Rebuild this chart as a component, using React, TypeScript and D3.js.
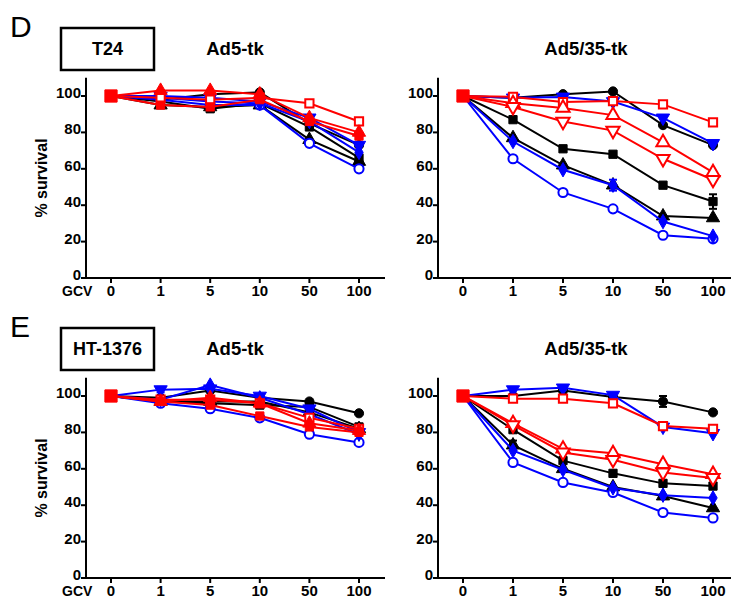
import React from 'react';
import * as d3 from 'd3';

// ---------- data ----------
const gcvDoses = ['0', '1', '5', '10', '50', '100'];
const yTickValues = [0, 20, 40, 60, 80, 100];

// series order: black ●, black ■, black ▲, blue ○, blue ◆, blue ▼, red □, red △/▲, red ▽/■
const seriesColors = ['#000000', '#000000', '#000000', '#0000ff', '#0000ff', '#0000ff', '#ff0000', '#ff0000', '#ff0000'];
const seriesShapes = ['circle', 'square', 'triangle', 'circle', 'diamond', 'triangleDown', 'square', 'triangle', 'triangleDown'];
const seriesOpen = [false, false, false, true, false, false, true, true, true];
// in the Ad5-tk panels the last two red series use filled markers
const seriesShapesAd5 = ['circle', 'square', 'triangle', 'circle', 'diamond', 'triangleDown', 'square', 'triangle', 'square'];
const seriesOpenAd5 = [false, false, false, true, false, false, true, false, false];

const t24Ad5tk = [
  [100, 98, 101, 102, 85, 73],
  [100, 97, 93, 96, 83, 66],
  [100, 95, 94, 95, 76, 64],
  [100, 98, 95, 95, 74, 60],
  [100, 99, 97, 96, 86, 69],
  [100, 100, 99, 97, 88, 73],
  [100, 99, 98, 99, 96, 86],
  [100, 103, 103, 101, 88, 80],
  [100, 95, 94, 98, 86, 78],
];
const t24Ad535tk = [
  [100, 99, 101, 102.5, 84, 73],
  [100, 87, 71, 68, 51, 42],
  [100, 77, 62, 51, 34, 33],
  [100, 65.5, 47, 38, 23.5, 21.5],
  [100, 75, 59.5, 51, 31, 23],
  [100, 99, 99.5, 97, 88, 74],
  [100, 99.5, 96.7, 97.2, 95.4, 85.5],
  [100, 96, 93.4, 89.5, 74.5, 58],
  [100, 94, 86, 81, 65.5, 54],
];
const ht1376Ad5tk = [
  [100, 99, 103, 99, 97, 90.5],
  [100, 97, 96, 95, 94, 83],
  [100, 97, 97, 97, 91, 82],
  [100, 96, 93, 88, 79, 74.5],
  [100, 98, 106, 99, 90, 79],
  [100, 103.5, 104, 100, 93, 80],
  [100, 98, 98, 96, 88, 82],
  [100, 97, 99, 96, 85, 81],
  [100, 97, 95, 89, 83, 80],
];
const ht1376Ad535tk = [
  [100, 100, 103, 99.5, 97, 91],
  [100, 81.5, 64.5, 57.5, 52, 50.5],
  [100, 73, 60, 50, 45, 38.5],
  [100, 63.5, 52.5, 47, 36, 33],
  [100, 70, 59.5, 49.5, 45.5, 44],
  [100, 103.5, 104.5, 100.5, 83, 79.5],
  [100, 98.5, 98.5, 96, 83.5, 82],
  [100, 85, 71, 68.5, 62.5, 57],
  [100, 84, 69, 65, 58, 55],
];
// [panel, series, dose index, error]
const errorBars = [
  [1, 1, 5, 4],
  [1, 4, 3, 3],
  [2, 1, 4, 3],
  [2, 5, 1, 1.5],
  [3, 0, 4, 3],
  [3, 2, 1, 2.5],
  [3, 5, 2, 1],
];
const controlValue = 100;

const panelTitles = ['Ad5-tk', 'Ad5/35-tk', 'Ad5-tk', 'Ad5/35-tk'];
const panelData = [t24Ad5tk, t24Ad535tk, ht1376Ad5tk, ht1376Ad535tk];
const cellLines = ['T24', 'HT-1376'];
const figLetters = ['D', 'E'];

// ---------- layout ----------
const FONT = 'Arial, "Liberation Sans", Helvetica, sans-serif';
const layouts = [
  { ax: 86, x0: 111, x1: 359, xEnd: 385, dy: 0, left: true },
  { ax: 438, x0: 463, x1: 713, xEnd: 731, dy: 0, left: false },
  { ax: 86, x0: 111, x1: 359, xEnd: 385, dy: 300, left: true },
  { ax: 438, x0: 463, x1: 713, xEnd: 731, dy: 300, left: false },
];

function Marker({ shape, open, color, x, y, big }: any) {
  const sizes: any = { circle: 66, square: 68, triangle: 76, triangleDown: 76, diamond: 60 };
  const types: any = {
    circle: d3.symbolCircle,
    square: d3.symbolSquare,
    triangle: d3.symbolTriangle,
    triangleDown: d3.symbolTriangle,
    diamond: d3.symbolDiamond,
  };
  const size = big ? 150 : sizes[shape];
  const path = d3.symbol().type(types[shape]).size(size)() as string;
  const rot = shape === 'triangleDown' ? ' rotate(180)' : '';
  return (
    <path
      d={path}
      transform={`translate(${x},${y})${rot}`}
      fill={open ? '#ffffff' : color}
      stroke={color}
      strokeWidth={open ? 2 : 1}
    />
  );
}

function Panel({ idx }: { idx: number }) {
  const L = layouts[idx];
  const data = panelData[idx];
  const y = d3.scaleLinear().domain([0, 100]).range([278 + L.dy, 96 + L.dy]);
  const x = d3.scalePoint<string>().domain(gcvDoses).range([L.x0, L.x1]);
  const line = d3
    .line<number>()
    .x((_, i) => x(gcvDoses[i]) as number)
    .y((v) => y(v));
  const shapes = L.left ? seriesShapesAd5 : seriesShapes;
  const opens = L.left ? seriesOpenAd5 : seriesOpen;
  const yTop = y(110);
  const yBase = y(0);
  return (
    <g>
      {/* axes */}
      <line x1={L.ax} x2={L.ax} y1={yTop} y2={yBase + 1} stroke="#000" strokeWidth={2} />
      <line x1={L.ax - 5} x2={L.xEnd} y1={yBase} y2={yBase} stroke="#000" strokeWidth={2} />
      {yTickValues.map((t) => (
        <g key={t}>
          <line x1={L.ax - 5} x2={L.ax} y1={y(t)} y2={y(t)} stroke="#000" strokeWidth={2} />
          <text x={L.ax - 5} y={y(t) + 2} textAnchor="end" fontSize={15} fontWeight="bold" fontFamily={FONT}>
            {t}
          </text>
        </g>
      ))}
      {gcvDoses.map((g) => (
        <g key={g}>
          <line x1={x(g)} x2={x(g)} y1={yBase} y2={yBase + 5} stroke="#000" strokeWidth={2} />
          <text x={x(g)} y={yBase + 17.5} textAnchor="middle" fontSize={15} fontWeight="bold" fontFamily={FONT}>
            {g}
          </text>
        </g>
      ))}
      <text
        x={(L.x0 + L.x1) / 2 + (L.left ? 0 : -2)}
        y={55 + L.dy}
        textAnchor="middle"
        fontSize={18.5}
        fontWeight="bold"
        fontFamily={FONT}
      >
        {panelTitles[idx]}
      </text>
      {L.left ? (
        <text x={62} y={yBase + 18} fontSize={14} fontWeight="bold" fontFamily={FONT}>
          GCV
        </text>
      ) : null}
      {/* series */}
      {data.map((vals, s) => (
        <g key={s}>
          <path d={line(vals) as string} fill="none" stroke={seriesColors[s]} strokeWidth={2} />
          {errorBars
            .filter((e) => e[0] === idx && e[1] === s)
            .map((e, k) => {
              const cx = x(gcvDoses[e[2]]) as number;
              const v = vals[e[2]];
              return (
                <g key={k} stroke={seriesColors[s]} strokeWidth={2}>
                  <line x1={cx} x2={cx} y1={y(v - e[3])} y2={y(v + e[3])} />
                  <line x1={cx - 4} x2={cx + 4} y1={y(v - e[3])} y2={y(v - e[3])} />
                  <line x1={cx - 4} x2={cx + 4} y1={y(v + e[3])} y2={y(v + e[3])} />
                </g>
              );
            })}
          {vals.map((v, i) =>
            i === 0 ? null : (
              <Marker
                key={i}
                shape={shapes[s]}
                open={opens[s]}
                color={seriesColors[s]}
                x={x(gcvDoses[i])}
                y={y(v)}
              />
            )
          )}
        </g>
      ))}
      <Marker shape="square" open={false} color="#ff0000" x={x(gcvDoses[0])} y={y(controlValue)} big />
    </g>
  );
}

export default function App() {
  return (
    <svg
      width={731}
      height={599}
      style={{ position: 'absolute', left: 0, top: 0, background: '#fff' }}
      fontFamily={FONT}
    >
      <rect width={731} height={599} fill="#fff" />
      {[0, 1].map((r) => (
        <g key={r}>
          <text x={10} y={37 + r * 300} fontSize={30} fontFamily={FONT}>
            {figLetters[r]}
          </text>
          <rect x={61} y={28 + r * 300} width={93} height={42} fill="none" stroke="#000" strokeWidth={2.5} />
          <text x={107.5} y={55 + r * 300} textAnchor="middle" fontSize={18} fontWeight="bold" fontFamily={FONT}>
            {cellLines[r]}
          </text>
          <text
            transform={`translate(47,${178 + r * 300}) rotate(-90)`}
            textAnchor="middle"
            fontSize={16}
            fontWeight="bold"
            fontFamily={FONT}
          >
            % survival
          </text>
        </g>
      ))}
      {[0, 1, 2, 3].map((i) => (
        <Panel key={i} idx={i} />
      ))}
    </svg>
  );
}
